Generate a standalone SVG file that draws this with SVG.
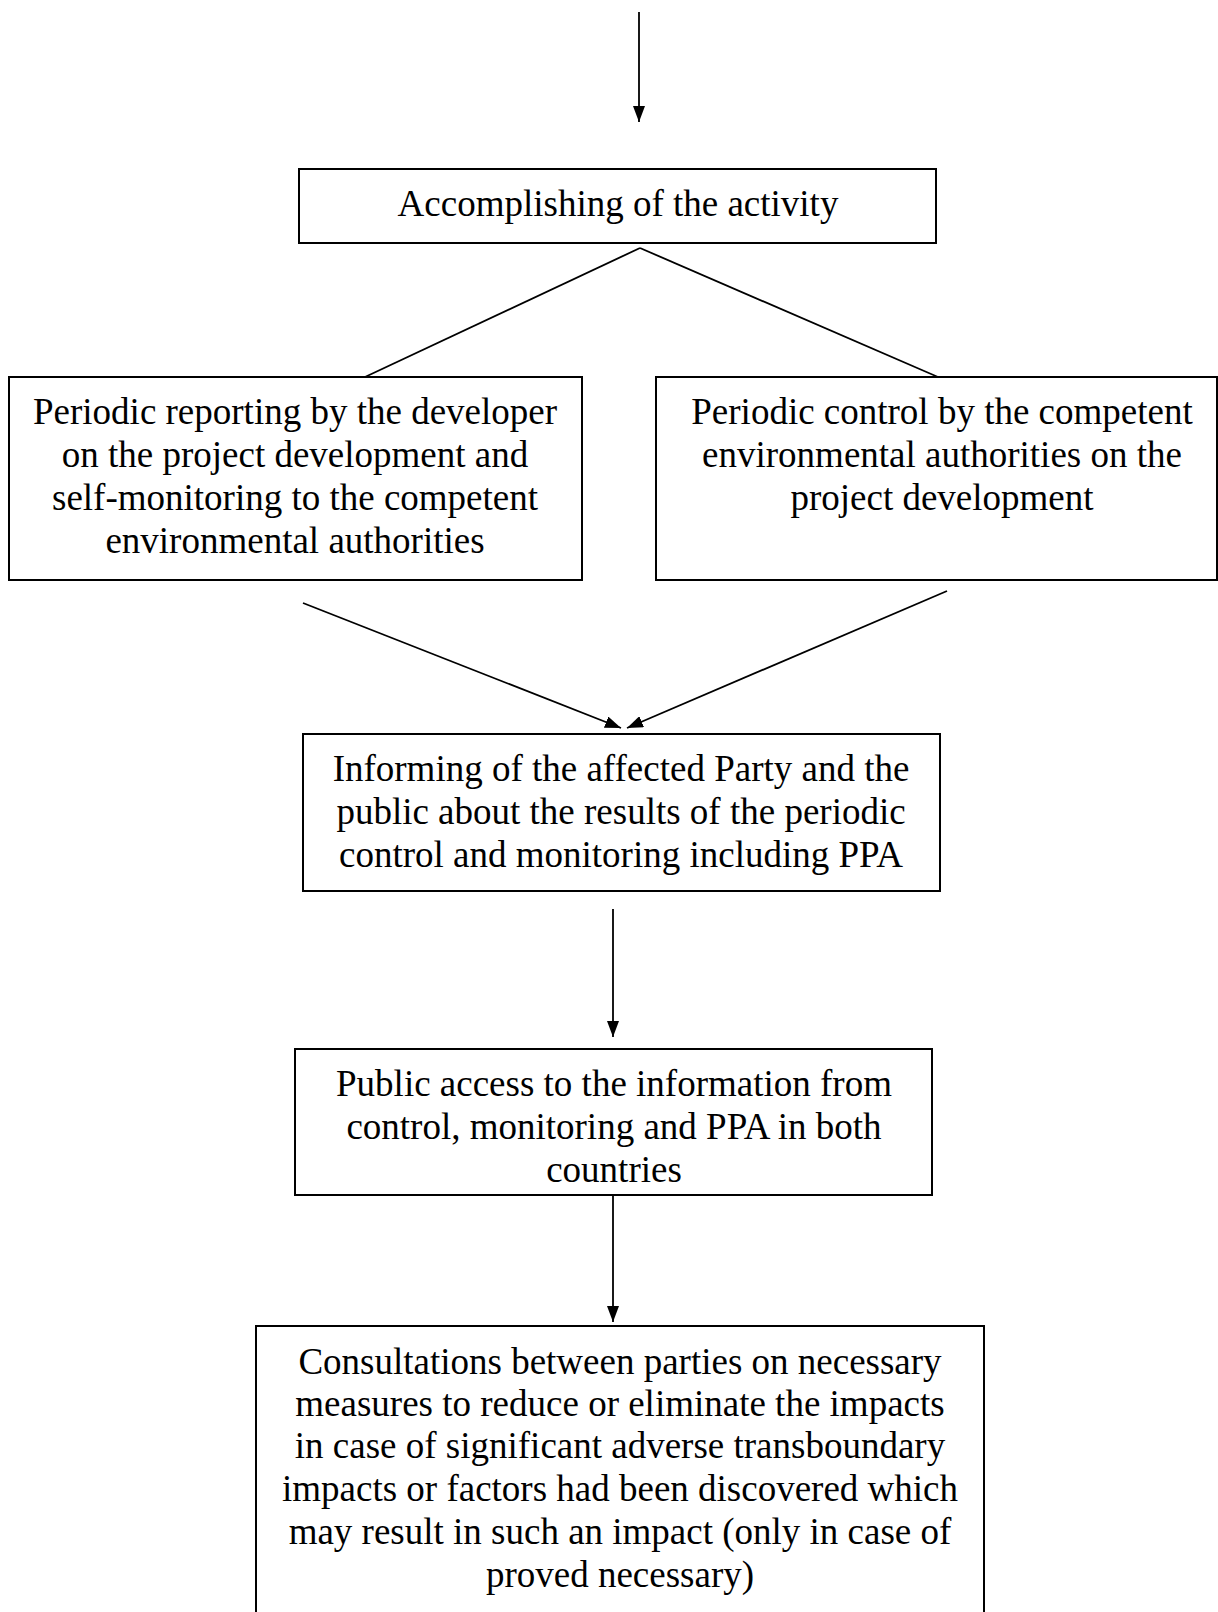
<svg xmlns="http://www.w3.org/2000/svg" width="1218" height="1612" viewBox="0 0 1218 1612">
<style>
.box{fill:#fff;stroke:#000;stroke-width:2}
.t{font-family:"Liberation Serif","Times New Roman",serif;font-size:37px;fill:#000;text-anchor:middle}
.c{stroke:#000;stroke-width:1.8;fill:none}
</style>
<defs>
<marker id="ah" viewBox="0 0 16 12" refX="16" refY="6" markerWidth="16" markerHeight="12" markerUnits="userSpaceOnUse" orient="auto">
<path d="M0,0 L16,6 L0,12 Z" fill="#000"/>
</marker>
</defs>
<rect width="1218" height="1612" fill="#fff"/>
<g id="connectors">
<line class="c" x1="639" y1="12" x2="639" y2="122" marker-end="url(#ah)"/>
<line class="c" x1="640" y1="248" x2="365" y2="377"/>
<line class="c" x1="640" y1="248" x2="938" y2="377"/>
<line class="c" x1="303" y1="603" x2="621" y2="728" marker-end="url(#ah)"/>
<line class="c" x1="947" y1="591" x2="627" y2="728" marker-end="url(#ah)"/>
<line class="c" x1="613" y1="909" x2="613" y2="1037" marker-end="url(#ah)"/>
<line class="c" x1="613" y1="1195" x2="613" y2="1322" marker-end="url(#ah)"/>
</g>
<g id="n1">
<rect class="box" x="299" y="169" width="637" height="74"/>
<text class="t" x="618" y="216">Accomplishing of the activity</text>
</g>
<g id="n2">
<rect class="box" x="9" y="377" width="573" height="203"/>
<text class="t" x="295" y="424">Periodic reporting by the developer</text>
<text class="t" x="295" y="467">on the project development and</text>
<text class="t" x="295" y="510">self-monitoring to the competent</text>
<text class="t" x="295" y="553">environmental authorities</text>
</g>
<g id="n3">
<rect class="box" x="656" y="377" width="561" height="203"/>
<text class="t" x="942" y="424">Periodic control by the competent</text>
<text class="t" x="942" y="467">environmental authorities on the</text>
<text class="t" x="942" y="510">project development</text>
</g>
<g id="n4">
<rect class="box" x="303" y="734" width="637" height="157"/>
<text class="t" x="621" y="781">Informing of the affected Party and the</text>
<text class="t" x="621" y="824">public about the results of the periodic</text>
<text class="t" x="621" y="867">control and monitoring including PPA</text>
</g>
<g id="n5">
<rect class="box" x="295" y="1049" width="637" height="146"/>
<text class="t" x="614" y="1096">Public access to the information from</text>
<text class="t" x="614" y="1139">control, monitoring and PPA in both</text>
<text class="t" x="614" y="1182">countries</text>
</g>
<g id="n6">
<rect class="box" x="256" y="1326" width="728" height="300"/>
<text class="t" x="620" y="1374">Consultations between parties on necessary</text>
<text class="t" x="620" y="1416">measures to reduce or eliminate the impacts</text>
<text class="t" x="620" y="1458">in case of significant adverse transboundary</text>
<text class="t" x="620" y="1501">impacts or factors had been discovered which</text>
<text class="t" x="620" y="1544">may result in such an impact (only in case of</text>
<text class="t" x="620" y="1587">proved necessary)</text>
</g>
</svg>
